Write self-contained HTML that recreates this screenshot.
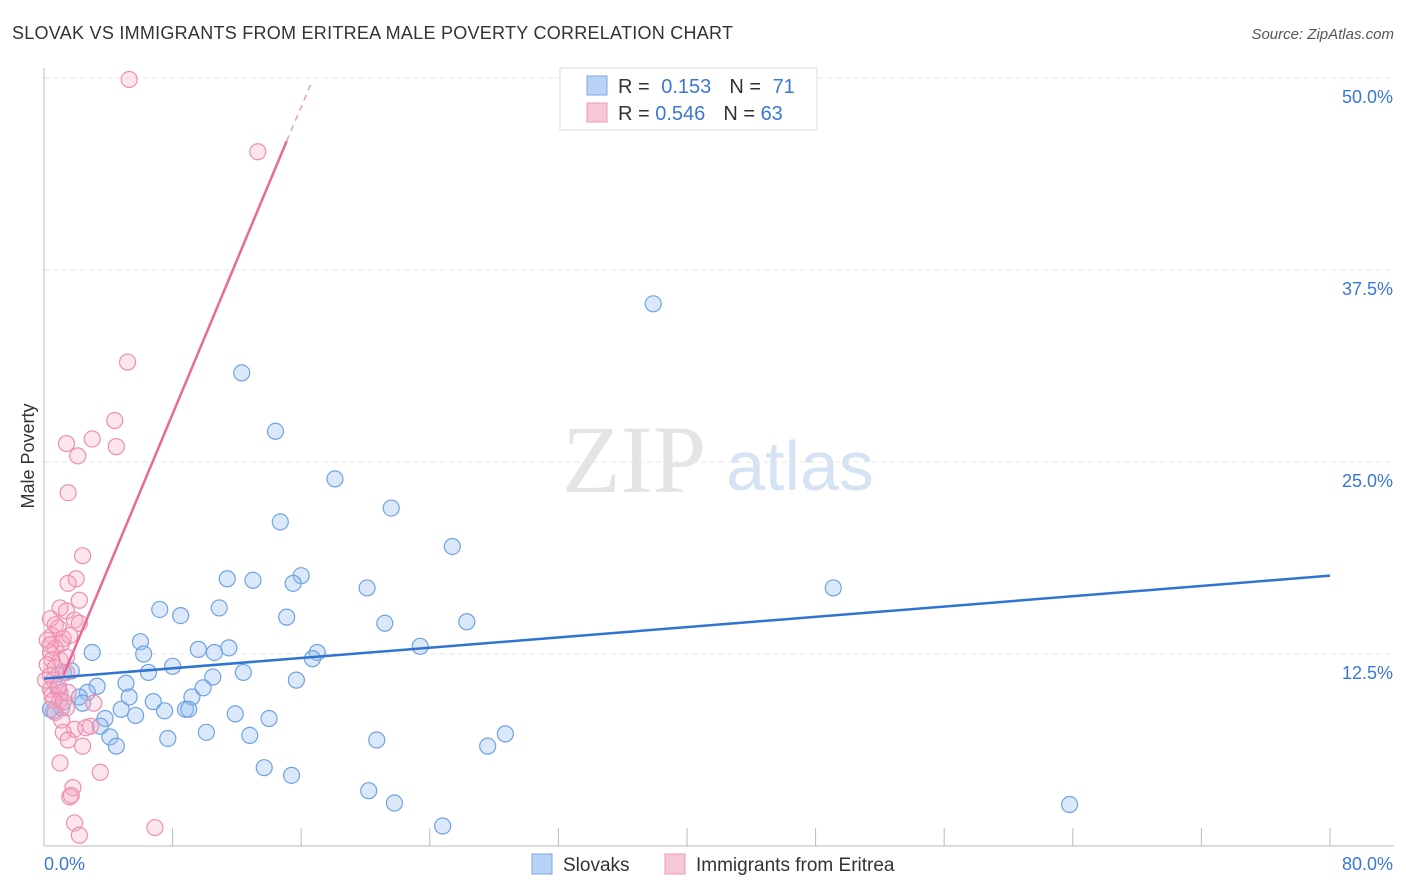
<!DOCTYPE html>
<html><head><meta charset="utf-8"><style>
body{margin:0;background:#fff;font-family:"Liberation Sans",sans-serif;}
svg{display:block}
</style></head><body>
<svg id="chart" width="1406" height="892" xmlns="http://www.w3.org/2000/svg">
<text x="12" y="39" font-size="18" fill="#333" textLength="721">SLOVAK VS IMMIGRANTS FROM ERITREA MALE POVERTY CORRELATION CHART</text>
<text x="1394" y="39" font-size="15" fill="#555" font-style="italic" text-anchor="end">Source: ZipAtlas.com</text>
<text x="634" y="492" font-size="96" fill="#e4e4e4" font-family="Liberation Serif" text-anchor="middle">ZIP</text>
<text x="800" y="490" font-size="70" fill="#d6e3f4" text-anchor="middle">atlas</text>
<text transform="translate(34,456) rotate(-90)" font-size="18" fill="#333" text-anchor="middle">Male Poverty</text>
<g id="grid"></g><g id="axes"></g><g id="pts"></g><g id="trend"></g>
<g>
<rect x="560" y="68" width="257" height="62" fill="#fff" stroke="#ddd"/>
<rect x="587" y="76" width="20" height="19" fill="#b8d3f5" stroke="#7aaae6"/>
<rect x="587" y="103" width="20" height="19" fill="#f9c8d6" stroke="#f09ab6"/>
<text x="618" y="93" font-size="20" fill="#333">R = <tspan fill="#3a78d4" dx="6">0.153</tspan><tspan fill="#333" dx="18">N = </tspan><tspan fill="#3a78d4" dx="6">71</tspan></text>
<text x="618" y="120" font-size="20" fill="#333">R = <tspan fill="#3a78d4">0.546</tspan><tspan fill="#333" dx="18">N = </tspan><tspan fill="#3a78d4">63</tspan></text>
</g>
<g>
<rect x="532" y="854" width="20" height="20" fill="#b8d3f5" stroke="#7aaae6"/>
<text x="563" y="871" font-size="19" fill="#333">Slovaks</text>
<rect x="665" y="854" width="20" height="20" fill="#f9c8d6" stroke="#f09ab6"/>
<text x="696" y="871" font-size="19" fill="#333">Immigrants from Eritrea</text>
</g>
</svg>
<script>
const xTicks=[0,8,16,24,32,40,48,56,64,72,80];
const yTicks=[12.5,25,37.5,50];
const yTickLabels=["12.5%","25.0%","37.5%","50.0%"];
const blueX=[37.9,12.3,14.4,18.1,21.6,14.7,25.4,49.1,11.4,13.0,16.0,15.5,20.1,7.2,8.5,10.9,15.1,21.2,26.3,6.0,6.2,9.6,11.5,10.6,17.0,16.7,23.4,3.0,6.5,8.0,12.4,10.5,15.7,1.7,1.2,5.1,3.3,0.9,6.8,9.2,9.9,5.3,2.7,2.2,2.4,0.6,1.1,4.8,5.7,7.5,8.8,9.0,11.9,14.0,3.8,3.5,4.1,4.5,7.7,10.1,12.8,20.7,27.6,28.7,13.7,15.4,20.2,21.8,24.8,63.8,0.4];
const blueY=[35.3,30.8,27.0,23.9,22.0,21.1,19.5,16.8,17.4,17.3,17.6,17.1,16.8,15.4,15.0,15.5,14.9,14.5,14.6,13.3,12.5,12.8,12.9,12.6,12.6,12.2,13.0,12.6,11.3,11.7,11.3,11.0,10.8,11.4,11.3,10.6,10.4,10.2,9.4,9.7,10.3,9.7,10.0,9.7,9.3,8.8,9.0,8.9,8.5,8.8,8.9,8.9,8.6,8.3,8.3,7.8,7.1,6.5,7.0,7.4,7.2,6.9,6.5,7.3,5.1,4.6,3.6,2.8,1.3,2.7,8.9];
const pinkX=[5.3,13.3,5.2,4.4,3.0,4.5,1.4,2.1,1.5,2.4,2.0,1.5,1.0,1.4,1.9,2.2,0.4,0.9,0.5,1.2,0.7,0.4,1.0,0.5,1.4,0.2,0.7,0.4,0.6,0.4,1.0,1.5,0.5,1.0,3.1,1.4,0.7,1.1,2.9,1.9,1.2,1.5,2.4,1.0,3.5,1.8,1.6,1.7,1.9,2.2,6.9,1.1,0.2,0.6,0.1,0.9,1.4,2.2,0.4,1.6,0.7,1.2,2.6];
const pinkY=[49.9,45.2,31.5,27.7,26.5,26.0,26.2,25.4,23.0,18.9,17.4,17.1,15.5,15.3,14.7,14.5,14.8,14.2,13.7,13.5,12.9,12.6,12.1,12.1,12.3,11.8,11.6,11.1,10.8,10.2,10.0,10.0,9.8,9.5,9.3,9.0,8.7,8.2,7.8,7.6,7.4,6.9,6.5,5.4,4.8,3.8,3.2,3.3,1.5,0.7,1.2,13.2,13.4,9.5,10.8,10.4,11.3,16.0,13.1,13.7,14.4,9.4,7.7];
const blueTrend=[[0,10.9],[80,17.6]];
const pinkTrend=[[1.2,11.1],[15.1,45.9]];
const pinkTrendDash=[[15.1,45.9],[16.6,49.6]];
const NS="http://www.w3.org/2000/svg";
const X=v=>44+v*1286/80, Y=v=>846-v*15.36;
function mk(t,a,p){const e=document.createElementNS(NS,t);for(const k in a)e.setAttribute(k,a[k]);document.getElementById(p).appendChild(e);return e;}
yTicks.forEach((t,i)=>{
 const g=mk('line',{x1:44,x2:1394,y1:Y(t),y2:Y(t),stroke:'#e6e6e6','stroke-dasharray':'5,4'},'grid');
 
 
 const l=mk('text',{x:1393,y:Y(t)+25,'font-size':18,fill:'#3a78d4','text-anchor':'end'},'axes');
 l.textContent=yTickLabels[i];
 
 
});
let a=mk('line',{x1:44,x2:44,y1:68,y2:846,stroke:'#bbb'},'axes');


a=mk('line',{x1:44,x2:1394,y1:846,y2:846,stroke:'#bbb'},'axes');


xTicks.forEach(t=>{if(t===0)return;
 const e=mk('line',{x1:X(t),x2:X(t),y1:828,y2:846,stroke:'#bbb'},'axes');
 
 
});
let t0=mk('text',{x:44,y:870,'font-size':18,fill:'#3a78d4'},'axes');t0.textContent=xTicks[0].toFixed(1)+'%';


let t1=mk('text',{x:1393,y:870,'font-size':18,fill:'#3a78d4','text-anchor':'end'},'axes');t1.textContent=xTicks[10].toFixed(1)+'%';


blueX.forEach((v,i)=>{
 const c=mk('circle',{cx:X(v),cy:Y(blueY[i]),r:8,fill:'rgba(150,190,240,0.35)',stroke:'#6fa3e0','stroke-width':1.2},'pts');
 
 
});
pinkX.forEach((v,i)=>{
 const c=mk('circle',{cx:X(v),cy:Y(pinkY[i]),r:8,fill:'rgba(246,170,195,0.3)',stroke:'#ef8fb0','stroke-width':1.2},'pts');
 
 
});
let l=mk('line',{x1:X(blueTrend[0][0]),y1:Y(blueTrend[0][1]),x2:X(blueTrend[1][0]),y2:Y(blueTrend[1][1]),stroke:'#2f74d0','stroke-width':2.5},'trend');


l=mk('line',{x1:X(pinkTrend[0][0]),y1:Y(pinkTrend[0][1]),x2:X(pinkTrend[1][0]),y2:Y(pinkTrend[1][1]),stroke:'#e8699a','stroke-width':2.5},'trend');


l=mk('line',{x1:X(pinkTrendDash[0][0]),y1:Y(pinkTrendDash[0][1]),x2:X(pinkTrendDash[1][0]),y2:Y(pinkTrendDash[1][1]),stroke:'#e8a0bb','stroke-width':1.5,'stroke-dasharray':'6,5'},'trend');


</script>
</body></html>
